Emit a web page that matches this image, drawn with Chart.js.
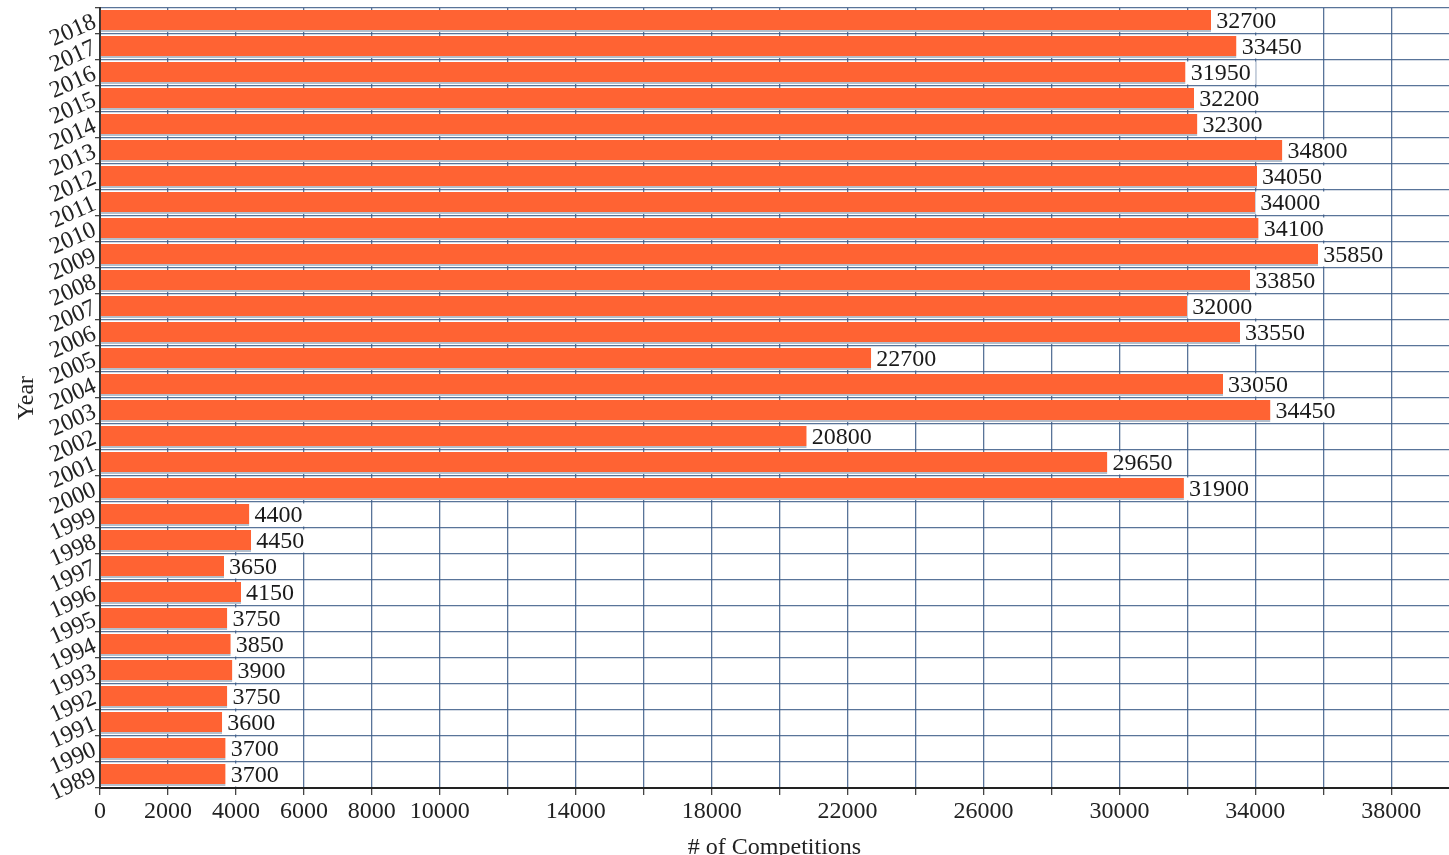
<!DOCTYPE html>
<html>
<head>
<meta charset="utf-8">
<script src="https://cdn.jsdelivr.net/npm/chart.js@4"></script>
<style>
html,body{margin:0;padding:0;background:#fff;}
#wrap{width:1449px;height:855px;position:relative;}
</style>
</head>
<body>
<div id="wrap"><canvas id="c" width="1449" height="855"></canvas></div>
<script>
const years = ['2018','2017','2016','2015','2014','2013','2012','2011','2010','2009','2008','2007','2006','2005','2004','2003','2002','2001','2000','1999','1998','1997','1996','1995','1994','1993','1992','1991','1990','1989'];
const competitions = [32700,33450,31950,32200,32300,34800,34050,34000,34100,35850,33850,32000,33550,22700,33050,34450,20800,29650,31900,4400,4450,3650,4150,3750,3850,3900,3750,3600,3700,3700];
const xTickLabels = [0,2000,4000,6000,8000,10000,14000,18000,22000,26000,30000,34000,38000];
const xGridStep = 2000;
const xGridMax = 38000;

const serif = '"Liberation Serif", "DejaVu Serif", serif';

const valueLabels = {
  id: 'valueLabels',
  afterDatasetsDraw(chart) {
    const ctx = chart.ctx;
    const meta = chart.getDatasetMeta(0);
    const yScale = chart.scales.y;
    const catH = (yScale.bottom - yScale.top) / years.length;
    ctx.save();
    ctx.font = '24px ' + serif;
    ctx.textBaseline = 'middle';
    ctx.textAlign = 'left';
    meta.data.forEach((bar, i) => {
      const txt = String(competitions[i]);
      const w = ctx.measureText(txt).width;
      const x0 = bar.x;
      const h = catH - 3;
      ctx.fillStyle = '#ffffff';
      ctx.fillRect(x0, bar.y - h / 2, w + 10, h);
      ctx.fillStyle = '#1a1a1a';
      ctx.fillText(txt, x0 + 5, bar.y + 1);
    });
    ctx.restore();
  }
};

new Chart(document.getElementById('c'), {
  type: 'bar',
  data: {
    labels: years,
    datasets: [{
      data: competitions,
      backgroundColor: '#FF6333',
      borderColor: '#b4bfcc',
      borderWidth: {top: 0, left: 0, right: 0, bottom: 2},
      borderSkipped: false,
      categoryPercentage: 1.0,
      barPercentage: 0.84
    }]
  },
  options: {
    indexAxis: 'y',
    responsive: false,
    animation: false,
    devicePixelRatio: 1,
    layout: {padding: {top: 0, right: 0, left: 0, bottom: 0}},
    plugins: {legend: {display: false}, tooltip: {enabled: false}},
    scales: {
      x: {
        type: 'linear',
        min: 0,
        max: 39700,
        afterBuildTicks(scale) {
          const t = [];
          for (let v = 0; v <= xGridMax; v += xGridStep) t.push({value: v});
          scale.ticks = t;
        },
        ticks: {
          autoSkip: false,
          maxRotation: 0,
          minRotation: 0,
          padding: 2,
          color: '#222',
          font: {family: serif, size: 24},
          callback: (v) => xTickLabels.includes(v) ? String(v) : ''
        },
        grid: {
          color: 'rgba(60,92,135,0.85)',
          lineWidth: 1.3,
          tickLength: 7,
          tickColor: '#444'
        },
        border: {color: '#222', width: 2},
        title: {
          display: true,
          text: '# of Competitions',
          color: '#222',
          font: {family: serif, size: 24},
          padding: {top: 4, bottom: -7}
        },
        afterFit(scale) { scale.height = 67; }
      },
      y: {
        type: 'category',
        ticks: {
          minRotation: 24,
          maxRotation: 24,
          autoSkip: false,
          padding: 0,
          color: '#222',
          font: {family: serif, size: 24}
        },
        grid: {
          offset: true,
          color: 'rgba(60,92,135,0.85)',
          lineWidth: 1.3,
          tickLength: 5,
          tickColor: '#444'
        },
        border: {color: '#333', width: 2},
        title: {
          display: true,
          text: 'Year',
          color: '#222',
          font: {family: serif, size: 24},
          padding: {top: 12, bottom: 0}
        },
        afterFit(scale) { scale.width = 100; scale.paddingTop = 8; scale.paddingBottom = 0; }
      }
    }
  },
  plugins: [valueLabels]
});
</script>
</body>
</html>
